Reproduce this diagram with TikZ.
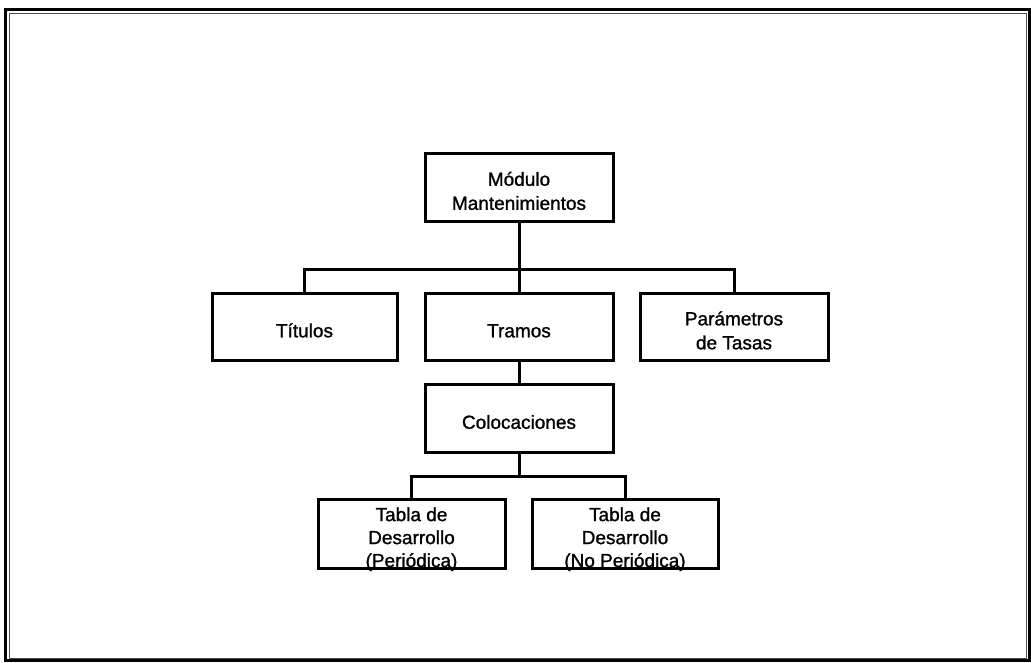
\documentclass[tikz,border=0pt]{standalone}
\usepackage{fontspec}
\setmainfont{Liberation Sans}[FakeBold=1.2]
\newcommand\boxtxt[1]{\raisebox{-6pt}[\height][\depth]{\begin{tabular}{@{}c@{}}#1\end{tabular}}}
\begin{document}
\begin{tikzpicture}[x=1pt,y=-1pt,
  box/.style={draw, line width=3pt, rectangle, inner sep=0pt,
    minimum width=188pt, minimum height=68pt,
    font=\fontsize{19}{24}\selectfont},
  tallbox/.style={box, minimum height=69pt, font=\fontsize{19}{23}\selectfont},
  conn/.style={line width=3pt},
  outerframe/.style={line width=3pt},
  innerframe/.style={line width=1pt, black!70}]
\useasboundingbox (0,0) rectangle (1031,662);
% frame
\draw[outerframe] (5.5,9.5) rectangle (1029.5,660.5);
\draw[innerframe] (9.5,13.5) rectangle (1026.5,658);
% nodes
\node[box] (mod) at (519,187) {\boxtxt{Módulo\\Mantenimientos}};
\node[box, minimum width=185pt, minimum height=67pt] (tit) at (304.5,326.5) {\boxtxt{Títulos}};
\node[box, minimum height=67pt] (tra) at (519,326.5) {\boxtxt{Tramos}};
\node[box, minimum height=67pt] (par) at (734,326.5) {\boxtxt{Parámetros\\de Tasas}};
\node[box] (col) at (519,418) {\boxtxt{Colocaciones}};
\node[tallbox, minimum width=187pt] (tp) at (411.5,533.5) {\boxtxt{Tabla de\\Desarrollo\\(Periódica)}};
\node[tallbox, minimum width=186pt] (tn) at (625,533.5) {\boxtxt{Tabla de\\Desarrollo\\(No Periódica)}};
% buses
\coordinate (b1) at (519,269);
\coordinate (b2) at (519,476);
% connectors
\draw[conn] (mod.south) -- (b1);
\draw[conn] (tit.north) |- (b1) -| (par.north);
\draw[conn] (b1) -- (tra.north);
\draw[conn] (tra.south) -- (col.north);
\draw[conn] (col.south) -- (b2);
\draw[conn] (tp.north) |- (b2) -| (tn.north);
\end{tikzpicture}
\end{document}
